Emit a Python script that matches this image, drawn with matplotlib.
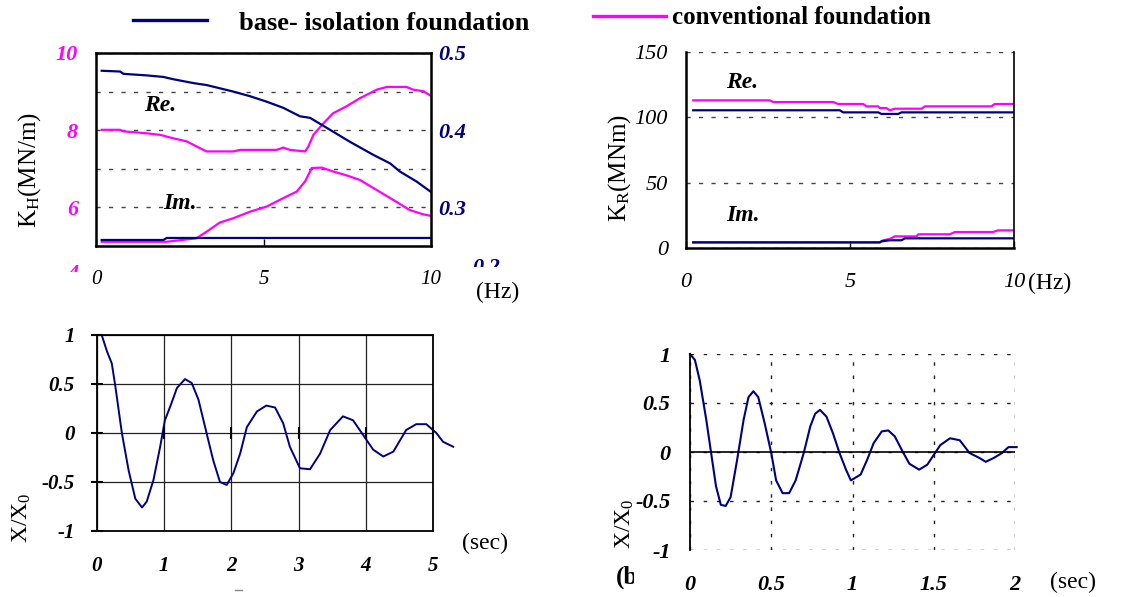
import matplotlib
matplotlib.use('Agg')
import matplotlib.pyplot as plt
from matplotlib.transforms import Bbox
from matplotlib.lines import Line2D

# ---- data ----
# K_H, base-isolation (right axis)
kh_iso_re_f = [0.17, 0.72, 0.82, 1.51, 2.01, 2.31, 2.91, 3.30, 4.10, 4.60, 5.09,
               5.59, 6.09, 6.39, 6.89, 7.58, 8.28, 8.78, 9.07, 9.57, 10.0]
kh_iso_re = [0.477, 0.476, 0.473, 0.471, 0.469, 0.466, 0.461, 0.4585, 0.450, 0.444, 0.437,
             0.429, 0.418, 0.416, 0.403, 0.385, 0.368, 0.357, 0.3465, 0.3335, 0.320]
kh_iso_im_f = [0.17, 2.01, 2.11, 10.0]
kh_iso_im = [0.2578, 0.2578, 0.2604, 0.2604]

# K_H, conventional (left axis)
kh_conv_re_f = [0.17, 0.72, 0.82, 1.51, 1.91, 2.31, 2.71, 3.00, 3.30, 4.10, 4.30, 5.39,
                5.59, 5.79, 6.24, 6.34, 6.49, 6.79, 7.08, 7.48, 7.88, 8.38, 8.68, 9.27,
                9.47, 9.77, 10.0]
kh_conv_re = [8.01, 8.01, 7.97, 7.92, 7.88, 7.79, 7.71, 7.58, 7.45, 7.45, 7.49, 7.49,
              7.55, 7.49, 7.45, 7.58, 7.88, 8.18, 8.44, 8.62, 8.83, 9.05, 9.12, 9.12,
              9.05, 9.01, 8.89]
kh_conv_im_f = [0.17, 2.11, 3.00, 3.30, 3.70, 4.10, 4.60, 5.09, 5.59, 5.99, 6.24, 6.44,
                6.74, 7.08, 7.48, 7.88, 8.38, 8.88, 9.37, 9.77, 10.0]
kh_conv_im = [5.11, 5.11, 5.20, 5.37, 5.61, 5.72, 5.89, 6.02, 6.24, 6.41, 6.67, 7.02,
              7.03, 6.93, 6.83, 6.71, 6.45, 6.19, 5.93, 5.82, 5.78]

# K_R
kr_conv_re_f = [0.22, 2.56, 2.66, 4.49, 4.64, 5.40, 5.50, 5.86, 5.91, 6.11, 6.21, 6.37,
                7.18, 7.28, 9.31, 9.41, 10.0]
kr_conv_re = [113.0, 113.0, 111.7, 111.7, 110.2, 110.2, 108.4, 108.4, 107.1, 107.1,
              105.4, 106.6, 106.6, 108.4, 108.4, 110.2, 110.2]
kr_iso_re_f = [0.22, 4.69, 4.79, 5.86, 5.96, 6.47, 6.57, 10.0]
kr_iso_re = [105.4, 105.4, 103.8, 103.8, 102.6, 102.6, 103.8, 103.8]
kr_conv_im_f = [0.22, 5.91, 6.01, 6.21, 6.37, 7.03, 7.08, 8.04, 8.20, 9.36, 9.51, 10.0]
kr_conv_im = [4.3, 4.3, 5.9, 6.9, 8.9, 8.9, 10.5, 10.5, 12.2, 12.2, 13.5, 13.5]
kr_iso_im_f = [0.22, 5.91, 5.96, 6.21, 6.57, 6.67, 10.0]
kr_iso_im = [4.3, 4.3, 5.1, 5.9, 5.9, 7.4, 7.4]

# free vibration, conventional foundation
t_conv = [0.01, 0.07, 0.15, 0.22, 0.27, 0.37, 0.47, 0.57, 0.67, 0.74, 0.84, 0.94, 1.01,
          1.09, 1.19, 1.31, 1.41, 1.51, 1.63, 1.73, 1.83, 1.93, 2.03, 2.13, 2.23, 2.38,
          2.52, 2.65, 2.77, 2.87, 3.02, 3.17, 3.32, 3.47, 3.66, 3.81, 3.96, 4.11, 4.26,
          4.41, 4.60, 4.75, 4.90, 5.05, 5.15, 5.30]
x_conv = [1.0, 1.0, 0.83, 0.71, 0.49, 0.0, -0.38, -0.67, -0.76, -0.70, -0.48, -0.14, 0.13,
          0.27, 0.46, 0.55, 0.51, 0.34, 0.0, -0.28, -0.50, -0.53, -0.41, -0.21, 0.06, 0.22,
          0.28, 0.26, 0.10, -0.14, -0.36, -0.37, -0.21, 0.03, 0.17, 0.13, -0.02, -0.17,
          -0.24, -0.19, 0.03, 0.09, 0.09, 0.0, -0.09, -0.14]

# free vibration, base-isolation foundation
t_iso = [0.0, 0.03, 0.06, 0.10, 0.13, 0.16, 0.19, 0.22, 0.25, 0.29, 0.33, 0.36, 0.39,
         0.42, 0.46, 0.50, 0.53, 0.57, 0.61, 0.65, 0.70, 0.74, 0.77, 0.80, 0.84, 0.88,
         0.92, 0.96, 0.99, 1.05, 1.09, 1.13, 1.18, 1.22, 1.26, 1.31, 1.35, 1.41, 1.46,
         1.50, 1.54, 1.60, 1.66, 1.72, 1.78, 1.82, 1.87, 1.92, 1.96, 2.01]
x_iso = [1.0, 0.94, 0.73, 0.33, -0.01, -0.35, -0.54, -0.55, -0.46, -0.08, 0.33, 0.56,
         0.62, 0.56, 0.29, -0.01, -0.29, -0.42, -0.42, -0.29, -0.01, 0.26, 0.39, 0.43,
         0.36, 0.19, -0.01, -0.18, -0.29, -0.23, -0.08, 0.09, 0.21, 0.22, 0.16, 0.0,
         -0.12, -0.18, -0.13, -0.03, 0.07, 0.14, 0.12, -0.01, -0.06, -0.10, -0.06,
         -0.01, 0.05, 0.05]

W, H = 1147, 597
NAVY = '#000080'
MAGENTA = '#ff00ff'

plt.rcParams['font.family'] = ['Liberation Serif', 'DejaVu Serif']
plt.rcParams['mathtext.fontset'] = 'custom'
plt.rcParams['mathtext.rm'] = 'Liberation Serif'
plt.rcParams['mathtext.it'] = 'Liberation Serif:italic'
plt.rcParams['mathtext.bf'] = 'Liberation Serif:bold'

fig = plt.figure(figsize=(W / 100, H / 100), dpi=100)


def px_axes(left, top, right, bottom):
    # axes placed by pixel box of the reference
    return fig.add_axes([left / W, 1 - bottom / H, (right - left) / W, (bottom - top) / H])


def px_text(x, y, s, **kw):
    return fig.text(x / W, 1 - y / H, s, **kw)


def style_ticklabels(ax, size=15, weight='normal', style='italic', color='black', which='both'):
    labels = []
    if which in ('both', 'x'):
        labels += ax.get_xticklabels()
    if which in ('both', 'y'):
        labels += ax.get_yticklabels()
    for lb in labels:
        lb.set_fontsize(size)
        lb.set_fontweight(weight)
        lb.set_fontstyle(style)
        lb.set_color(color)


dash = (0, (3, 6))

# ---------------- panel 1 : K_H ----------------
ax1 = px_axes(96, 53, 431, 246)
ax1r = ax1.twinx()
ln_conv, = ax1.plot(kh_conv_re_f, kh_conv_re, color=MAGENTA, lw=1.6)
ax1.plot(kh_conv_im_f, kh_conv_im, color=MAGENTA, lw=1.6)
ln_iso, = ax1r.plot(kh_iso_re_f, kh_iso_re, color=NAVY, lw=1.6)
ax1r.plot(kh_iso_im_f, kh_iso_im, color=NAVY, lw=1.6)
ax1.set_xlim(0, 10)
ax1.set_ylim(5, 10)
ax1r.set_ylim(0.25, 0.5)
ax1.set_xticks([0, 5, 10])
ax1.set_xticklabels(['0', '5', '10'])
ax1.set_yticks([6, 8, 10])
ax1.set_yticks([7, 9], minor=True)
ax1.set_yticklabels(['6', '8', '10'])
ax1r.set_yticks([0.3, 0.4, 0.5])
ax1r.set_yticklabels(['0.3', '0.4', '0.5'])
ax1.grid(True, axis='y', which='both', color='#444444', lw=1.0, linestyle=dash)
ax1.tick_params(axis='x', direction='in', length=5, width=1, pad=17)
ax1.tick_params(axis='y', which='both', length=0, pad=13)
ax1r.tick_params(axis='y', length=0, pad=5)
style_ticklabels(ax1, which='x')
style_ticklabels(ax1, weight='bold', color=MAGENTA, which='y', size=16)
style_ticklabels(ax1r, weight='bold', color=NAVY, which='y', size=16)
for sp in ax1r.spines.values():
    sp.set_linewidth(1.8)
ax1.text(1.9, 8.65, 'Re.', fontsize=17, fontweight='bold', fontstyle='italic',
         ha='center', va='center')
ax1.text(2.5, 6.1, 'Im.', fontsize=17, fontweight='bold', fontstyle='italic',
         ha='center', va='center')
px_text(30, 170, r'K$_\mathregular{H}$(MN/m)', fontsize=18, rotation=90, ha='center', va='center')
px_text(498, 292, '(Hz)', fontsize=17, ha='center', va='center')

# axis-range labels that are cut off in the source image
t4 = px_text(78, 274, '4', fontsize=16, fontweight='bold', fontstyle='italic', color=MAGENTA,
             ha='right', va='center')
t4.set_clip_box(Bbox.from_extents(0, H - 272, W, H))
t4.set_clip_on(True)
t02 = px_text(472, 268, '0.2', fontsize=16, fontweight='bold', fontstyle='italic', color=NAVY,
              ha='left', va='center')
t02.set_clip_box(Bbox.from_extents(0, H - 267, W, H))
t02.set_clip_on(True)

# ---------------- panel 2 : K_R ----------------
ax2 = px_axes(686, 52, 1014, 248)
ax2.plot(kr_conv_re_f, kr_conv_re, color=MAGENTA, lw=1.6)
ax2.plot(kr_iso_re_f, kr_iso_re, color=NAVY, lw=1.6)
ax2.plot(kr_conv_im_f, kr_conv_im, color=MAGENTA, lw=1.6)
ax2.plot(kr_iso_im_f, kr_iso_im, color=NAVY, lw=1.6)
ax2.set_xlim(0, 10)
ax2.set_ylim(0, 150)
ax2.set_xticks([0, 5, 10])
ax2.set_yticks([0, 50, 100, 150])
ax2.grid(True, axis='y', color='#444444', lw=1.0, linestyle=dash)
ax2.spines['top'].set_visible(False)
ax2.spines['left'].set_linewidth(1.8)
ax2.spines['bottom'].set_linewidth(1.8)
ax2.spines['right'].set_linewidth(1.2)
ax2.tick_params(axis='x', direction='in', length=5, width=1, pad=18)
ax2.tick_params(axis='y', length=0, pad=13)
style_ticklabels(ax2, size=16)
ax2.text(1.7, 127, 'Re.', fontsize=17, fontweight='bold', fontstyle='italic',
         ha='center', va='center')
ax2.text(1.75, 25, 'Im.', fontsize=17, fontweight='bold', fontstyle='italic',
         ha='center', va='center')
px_text(620, 168, r'K$_\mathregular{R}$(MNm)', fontsize=18, rotation=90, ha='center', va='center')
px_text(1050, 283, '(Hz)', fontsize=17, ha='center', va='center')

# ---------------- panel 3 : free vibration (conventional) ----------------
ax3 = px_axes(97, 335, 433, 531)
ax3.plot(t_conv, x_conv, color=NAVY, lw=1.4, clip_on=False)
ax3.set_xlim(0, 5)
ax3.set_ylim(-1, 1)
ax3.set_xticks([0, 1, 2, 3, 4, 5])
ax3.set_yticks([-1, -0.5, 0, 0.5, 1])
ax3.set_yticklabels(['-1', '-0.5', '0', '0.5', '1'])
ax3.grid(True, color='#222222', lw=0.9)
ax3.plot(ax3.get_xticks()[1:], [0] * 5, ls='none', marker='|', ms=9, mew=1.5, color='black')
ax3.tick_params(axis='x', length=0, pad=18)
ax3.tick_params(axis='y', direction='inout', length=8, width=1.5, pad=12)
for sp in ax3.spines.values():
    sp.set_linewidth(1.3)
style_ticklabels(ax3, weight='bold', size=15)
px_text(22, 518, r'X/X$_\mathregular{0}$', fontsize=17, rotation=90, ha='center', va='center')
px_text(485, 543, '(sec)', fontsize=17, ha='center', va='center')
fig.add_artist(Line2D([235 / W, 242 / W], [1 - 590 / H, 1 - 590 / H], color='#888888', lw=1))

# ---------------- panel 4 : free vibration (base-isolation) ----------------
ax4 = px_axes(690, 354, 1015, 550)
ax4.plot(t_iso, x_iso, color=NAVY, lw=1.5, clip_on=False)
ax4.set_xlim(0, 2)
ax4.set_ylim(-1, 1)
ax4.set_xticks([0, 0.5, 1, 1.5, 2])
ax4.set_xticklabels(['0', '0.5', '1', '1.5', '2'])
ax4.set_yticks([-1, -0.5, 0, 0.5, 1])
ax4.set_yticklabels(['-1', '-0.5', '0', '0.5', '1'])
ax4.grid(True, color='#222222', lw=1.0, linestyle=(0, (2.5, 7)))
ax4.axhline(0, color='black', lw=1.2)
for side in ('top', 'right', 'bottom'):
    ax4.spines[side].set_visible(False)
ax4.spines['left'].set_linewidth(1.3)
ax4.tick_params(axis='both', length=0)
ax4.tick_params(axis='x', pad=18)
ax4.tick_params(axis='y', pad=14)
style_ticklabels(ax4, weight='bold', size=16)
px_text(625, 524, r'X/X$_\mathregular{0}$', fontsize=17, rotation=90, ha='center', va='center')
px_text(1073, 582, '(sec)', fontsize=17, ha='center', va='center')
tb = px_text(616, 577, '(b)', fontsize=18, fontweight='bold', ha='left', va='center')
tb.set_clip_box(Bbox.from_extents(0, 0, 634, H))
tb.set_clip_on(True)

# ---------------- legends ----------------
fig.legend([ln_iso], ['base- isolation foundation'], loc='center left',
           bbox_to_anchor=(133 / W, 1 - 23 / H), frameon=False, borderpad=0, borderaxespad=0,
           handlelength=2.8, handletextpad=1.2,
           prop={'family': 'Liberation Serif', 'weight': 'bold', 'size': 19})
fig.legend([ln_conv], ['conventional foundation'], loc='center left',
           bbox_to_anchor=(593 / W, 1 - 18 / H), frameon=False, borderpad=0, borderaxespad=0,
           handlelength=2.9, handletextpad=0.25,
           prop={'family': 'Liberation Serif', 'weight': 'bold', 'size': 18})
for lg in fig.legends:
    for h in lg.legend_handles:
        h.set_linewidth(2.4)

fig.savefig('out.png', dpi=100)
